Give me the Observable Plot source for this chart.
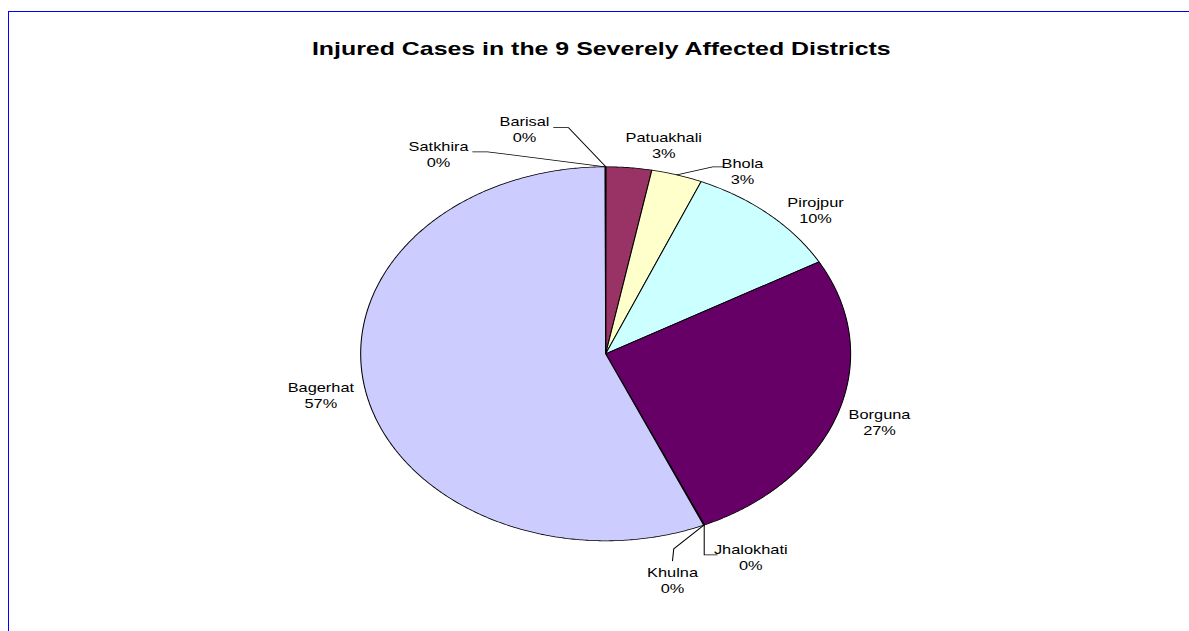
<!DOCTYPE html>
<html>
<head>
<meta charset="utf-8">
<script src="https://cdn.jsdelivr.net/npm/d3@7"></script>
<script src="https://cdn.jsdelivr.net/npm/@observablehq/plot@0.6"></script>
<style>
  html, body { margin: 0; padding: 0; background: #fff; width: 1189px; height: 631px; overflow: hidden; }
  #frame { position: absolute; left: 8px; top: 11px; width: 1300px; height: 700px;
           border-left: 1px solid #0000ff; border-top: 1px solid #0000ff; }
  #stretch { position: absolute; left: 0; top: 0; width: 908px; height: 631px;
             transform: scaleX(1.31); transform-origin: 0 0; }
  #title { position: absolute; left: 0; top: 39px; width: 918px; text-align: center;
           font: bold 19px "Liberation Sans", Arial, sans-serif; line-height: 19px; color: #000; }
  #chart { position: absolute; left: 0; top: 0; }
</style>
</head>
<body>
<div id="frame"></div>
<div id="stretch">
  <div id="chart"></div>
  <div id="title">Injured Cases in the 9 Severely Affected Districts</div>
</div>
<script>
// ---- data ----
const districts = ["Barisal", "Patuakhali", "Bhola", "Pirojpur", "Borguna", "Jhalokhati", "Khulna", "Bagerhat", "Satkhira"];
const injuredShare = [0.02, 3.0, 3.35, 10.45, 26.58, 0.02, 0.03, 56.52, 0.03];
const sliceColors = ["#9999FF", "#993366", "#FFFFCC", "#CCFFFF", "#660066", "#FF8080", "#0066CC", "#CCCCFF", "#000080"];

// label nudges (unit-circle coords, relative to slice mid-angle edge point)
const labelNudge = {
  Barisal: [-0.332, 0.203], Patuakhali: [0.142, 0.120], Bhola: [0.268, 0.022],
  Pirojpur: [0.191, 0.024], Borguna: [0.169, -0.048], Jhalokhati: [0.19, -0.171],
  Khulna: [-0.128, -0.293], Bagerhat: [-0.184, -0.014], Satkhira: [-0.681, 0.070]
};
// leader line bends (relative to the edge point)
const leaderBends = {
  Barisal: [[-0.152, 0.209], [-0.213, 0.209]],
  Satkhira: [[-0.481, 0.080], [-0.542, 0.080]],
  Bhola: [[0.146, 0.043], [0.191, 0.043]],
  Jhalokhati: [[0.0, -0.160], [0.053, -0.160]],
  Khulna: [[-0.123, -0.127], [-0.128, -0.191]]
};

// ---- geometry ----
const total = d3.sum(injuredShare);
const arcs = d3.pie().sort(null).value(d => d)(injuredShare);
const slicePts = [];
const labels = [];
const leaders = [];
arcs.forEach((a, i) => {
  const name = districts[i];
  const a0 = a.startAngle, a1 = a.endAngle;
  const n = Math.max(2, Math.ceil((a1 - a0) / (Math.PI / 360)));
  slicePts.push({district: name, u: 0, v: 0});
  for (let k = 0; k <= n; k++) {
    const t = a0 + (a1 - a0) * k / n;
    slicePts.push({district: name, u: Math.sin(t), v: Math.cos(t)});
  }
  slicePts.push({district: name, u: 0, v: 0});
  const m = (a0 + a1) / 2;
  const eu = Math.sin(m), ev = Math.cos(m);
  const nd = labelNudge[name];
  const pct = Math.round(injuredShare[i] / total * 100 + 1e-9);
  labels.push({district: name, u: eu + nd[0], v: ev + nd[1], text: name + "\n" + pct + "%"});
  if (leaderBends[name]) {
    leaders.push({district: name, u: eu, v: ev});
    for (const b of leaderBends[name]) leaders.push({district: name, u: eu + b[0], v: ev + b[1]});
  }
});

const cx = 605 / 1.31, cy = 353.3, R = 187;
const chart = Plot.plot({
  width: 908, height: 631, margin: 0,
  x: {domain: [-1, 1], range: [cx - R, cx + R], axis: null},
  y: {domain: [-1, 1], range: [cy + R, cy - R], axis: null},
  color: {domain: districts, range: sliceColors},
  style: {background: "transparent", overflow: "visible"},
  marks: [
    Plot.line(slicePts, {x: "u", y: "v", z: "district", fill: "district", stroke: "#000", strokeWidth: 0.8, strokeLinejoin: "round"}),
    Plot.line(leaders, {x: "u", y: "v", z: "district", stroke: "#000", strokeWidth: 0.8}),
    Plot.text(labels, {x: "u", y: "v", text: "text", fontSize: 12.5, lineHeight: 1.25, fill: "#000",
      fontFamily: "Liberation Sans, Arial, sans-serif"})
  ]
});
document.getElementById("chart").appendChild(chart);
</script>
</body>
</html>
